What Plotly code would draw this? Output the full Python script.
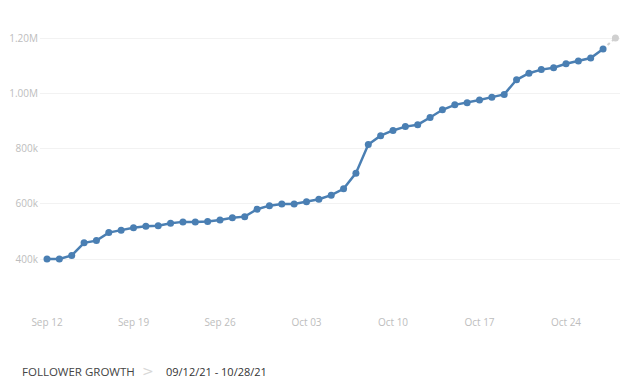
import pandas as pd
import plotly.graph_objects as go

dates = pd.date_range("2021-09-12", "2021-10-28", freq="D")
followers = [
    400000, 400000, 413000, 459000, 467000, 496000, 505000, 514000, 519000, 521000,
    530000, 535000, 535000, 536000, 542000, 550000, 554000, 581000, 594000, 600000,
    600000, 608000, 617000, 632000, 655000, 712000, 816000, 848000, 867000, 881000,
    888000, 914000, 942000, 960000, 968000, 978000, 988000, 998000, 1051000, 1075000,
    1088000, 1095000, 1109000, 1119000, 1130000, 1163000, 1203000,
]
ytick_vals = [400000, 600000, 800000, 1000000, 1200000]
ytick_text = ["400k", "600k", "800k", "1.00M", "1.20M"]
xtick_dates = ["2021-09-12", "2021-09-19", "2021-09-26", "2021-10-03", "2021-10-10", "2021-10-17", "2021-10-24"]
xtick_text = ["Sep 12", "Sep 19", "Sep 26", "Oct 03", "Oct 10", "Oct 17", "Oct 24"]

blue = "#4a7fb3"
tick_font = dict(family="Open Sans, Noto Sans, sans-serif", size=10, color="#bdbdbd")
fig = go.Figure()
fig.add_trace(go.Scatter(
    x=dates[-2:], y=followers[-2:], mode="lines+markers",
    line=dict(color="#d0d0d0", width=2, dash="dot"),
    marker=dict(color=["rgba(0,0,0,0)", "#d0d0d0"], size=7),
    hoverinfo="skip", showlegend=False,
))
fig.add_trace(go.Scatter(
    x=dates[:-1], y=followers[:-1], mode="lines+markers",
    line=dict(color=blue, width=2.5),
    marker=dict(color=blue, size=7),
    showlegend=False,
))

d0 = pd.Timestamp("2021-09-12")
px_per_day = 519 / 42
xr0 = d0 - pd.Timedelta(days=(47 - 40) / px_per_day)
xr1 = d0 + pd.Timedelta(days=(620 - 47) / px_per_day)

fig.update_layout(
    width=639, height=388,
    margin=dict(l=32, r=27, t=17, b=86, autoexpand=False),
    paper_bgcolor="white", plot_bgcolor="white",
    font=dict(family="Open Sans, Noto Sans, sans-serif", color="#bdbdbd", size=11),
    xaxis=dict(
        range=[xr0, xr1], showgrid=False, zeroline=False, showline=False,
        tickvals=xtick_dates, ticktext=xtick_text, ticks="", automargin=False,
        ticklabelstandoff=5, tickfont=tick_font,
    ),
    yaxis=dict(
        range=[215000, 1250000], showgrid=True, gridcolor="#f2f2f2", gridwidth=1,
        zeroline=False, showline=False, tickvals=ytick_vals, ticktext=ytick_text,
        ticks="", automargin=False, ticklabelstandoff=1, tickfont=tick_font,
    ),
)
fig.add_annotation(
    text="FOLLOWER GROWTH", xref="paper", yref="paper",
    x=-0.0345, y=-0.215, xanchor="left", yanchor="middle", showarrow=False,
    font=dict(size=11.5, color="#444444", family="Open Sans, Noto Sans, sans-serif"),
)
fig.add_annotation(
    text="&gt;", xref="paper", yref="paper",
    x=0.186, y=-0.215, xanchor="center", yanchor="middle", showarrow=False,
    font=dict(size=14, color="#d8d8d8", family="DejaVu Sans"),
)
fig.add_annotation(
    text="09/12/21 - 10/28/21", xref="paper", yref="paper",
    x=0.2138, y=-0.215, xanchor="left", yanchor="middle", showarrow=False,
    font=dict(size=11, color="#333333", family="Open Sans, Noto Sans, sans-serif"),
)
fig.write_html("out.html")
